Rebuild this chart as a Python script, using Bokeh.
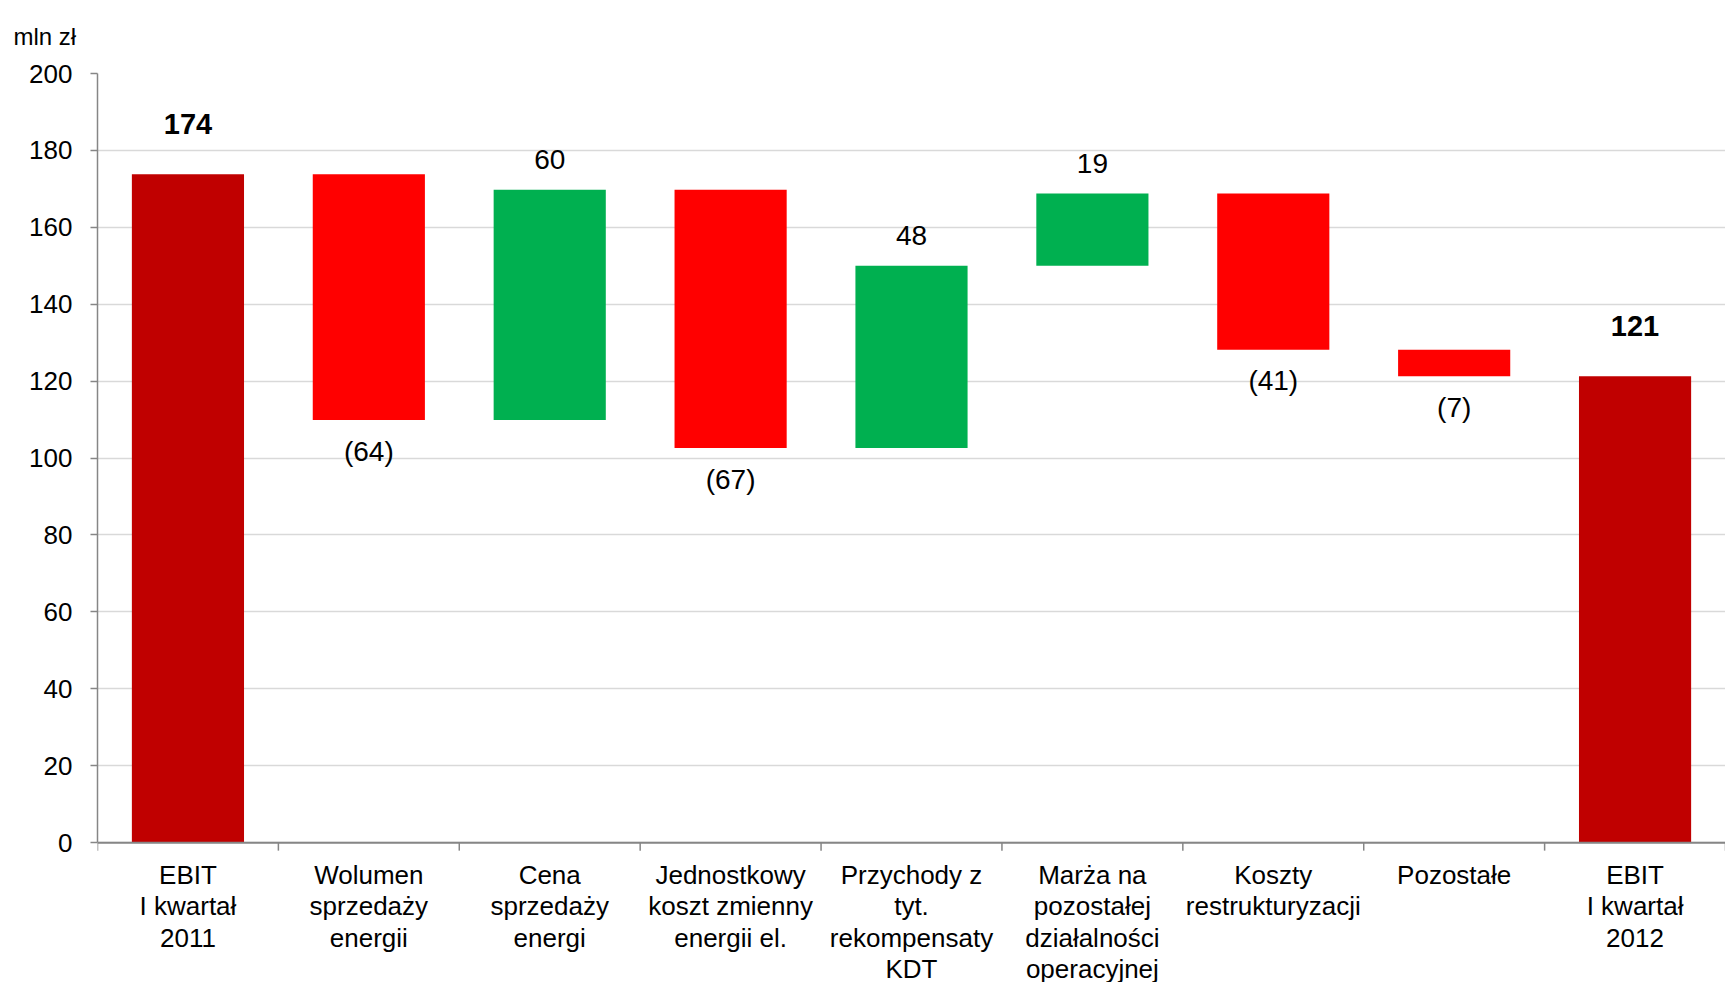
from bokeh.plotting import figure
from bokeh.models import FixedTicker, ColumnDataSource, Range1d, Span
from bokeh.core.properties import value
from bokeh.embed import file_html
from bokeh.resources import INLINE

# ---- data ----
categories = [
    "EBIT\nI kwartał\n2011",
    "Wolumen\nsprzedaży\nenergii",
    "Cena\nsprzedaży\nenergi",
    "Jednostkowy\nkoszt zmienny\nenergii el.",
    "Przychody z\ntyt.\nrekompensaty\nKDT",
    "Marża na\npozostałej\ndziałalności\noperacyjnej",
    "Koszty\nrestrukturyzacji",
    "Pozostałe",
    "EBIT\nI kwartał\n2012",
]
# running level after each step (mln zł)
levels = [173.8, 109.9, 169.8, 102.6, 150.0, 168.8, 128.2, 121.3]
value_labels = ["174", "(64)", "60", "(67)", "48", "19", "(41)", "(7)", "121"]
kinds = ["total", "decrease", "increase", "decrease", "increase",
         "increase", "decrease", "decrease", "total"]
y_ticks = [0, 20, 40, 60, 80, 100, 120, 140, 160, 180, 200]

colors = {"total": "#C00000", "decrease": "#FF0000", "increase": "#00B050"}
FONT = "Liberation Sans"
AXIS_GRAY = "#868686"

# ---- geometry of the page ----
W, H = 1725, 982
TOP, LEFT = 72, 97
ZERO_PX = 842                      # pixel row of the value 0
px_per_unit = (ZERO_PX - TOP) / 200.0
y_start = -(H - ZERO_PX) / px_per_unit   # frame runs to the bottom edge

# ---- derive bars ----
n = len(categories)
xs = list(range(1, n + 1))
bottoms, tops = [], []
for i in range(n):
    if i == 0:
        b, t = 0, levels[0]
    elif i == n - 1:
        b, t = 0, levels[-1]
    else:
        b, t = sorted([levels[i - 1], levels[i]])
    bottoms.append(b)
    tops.append(t)

bar_src = ColumnDataSource(dict(
    x=xs, bottom=bottoms, top=tops,
    color=[colors[k] for k in kinds],
))

p = figure(width=W, height=H,
           x_range=Range1d(0.5, n + 0.5), y_range=Range1d(y_start, 200),
           output_backend="svg", toolbar_location=None,
           min_border_left=LEFT, min_border_right=0,
           min_border_top=TOP, min_border_bottom=0)

p.vbar(x="x", width=0.62, bottom="bottom", top="top",
       fill_color="color", line_color=None, source=bar_src)

# value labels
tot_x, tot_y, tot_t = [], [], []
d_x, d_y, d_t, d_off = [], [], [], []
for i, k in enumerate(kinds):
    if k == "total":
        tot_x.append(xs[i]); tot_y.append(tops[i]); tot_t.append(value_labels[i])
    elif k == "increase":
        d_x.append(xs[i]); d_y.append(tops[i]); d_t.append(value_labels[i]); d_off.append(-30)
    else:
        d_x.append(xs[i]); d_y.append(bottoms[i]); d_t.append(value_labels[i]); d_off.append(31)

p.text(x=tot_x, y=tot_y, text=tot_t, y_offset=-50,
       text_align="center", text_baseline="middle",
       text_font=value(FONT), text_font_size="29px",
       text_font_style="bold", text_color="#000000")
p.text(x=d_x, y=d_y, text=d_t, y_offset=d_off,
       text_align="center", text_baseline="middle",
       text_font=value(FONT), text_font_size="28px",
       text_color="#000000")

# x axis line at value 0, tick marks at category boundaries, names below
p.xaxis.visible = False
p.add_layout(Span(location=0, dimension="width", line_color=AXIS_GRAY, line_width=2))
bounds = [b + 0.5 for b in range(0, n + 1)]
tick_len = 8 / px_per_unit
p.segment(x0=bounds, x1=bounds, y0=[0] * len(bounds), y1=[-tick_len] * len(bounds),
          line_color=AXIS_GRAY, line_width=1.5)
p.text(x=xs, y=[0] * n, text=categories, y_offset=17,
       text_align="center", text_baseline="top",
       text_font=value(FONT), text_font_size="26px",
       text_line_height=1.05, text_color="#000000")

# y axis (only from 0 to 200)
p.yaxis.bounds = (0, 200)
p.yaxis.ticker = FixedTicker(ticks=y_ticks, minor_ticks=[])
p.yaxis.major_tick_in = 0
p.yaxis.major_tick_out = 7
p.yaxis.major_tick_line_color = AXIS_GRAY
p.yaxis.major_tick_line_width = 1.5
p.yaxis.axis_line_color = AXIS_GRAY
p.yaxis.axis_line_width = 1.5
p.yaxis.major_label_text_font = FONT
p.yaxis.major_label_text_font_size = "26px"
p.yaxis.major_label_text_color = "#000000"
p.yaxis.major_label_standoff = 18

p.xgrid.visible = False
p.ygrid.grid_line_color = "#D9D9D9"
p.ygrid.grid_line_width = 1.5
p.outline_line_color = None

p.title.text = "mln zł"
p.title.align = "left"
p.title.vertical_align = "top"
p.title.offset = -84
p.title.standoff = 44
p.title.text_font = FONT
p.title.text_font_size = "24px"
p.title.text_font_style = "normal"
p.title.text_color = "#000000"

open("out.html", "w").write(file_html(p, INLINE))
